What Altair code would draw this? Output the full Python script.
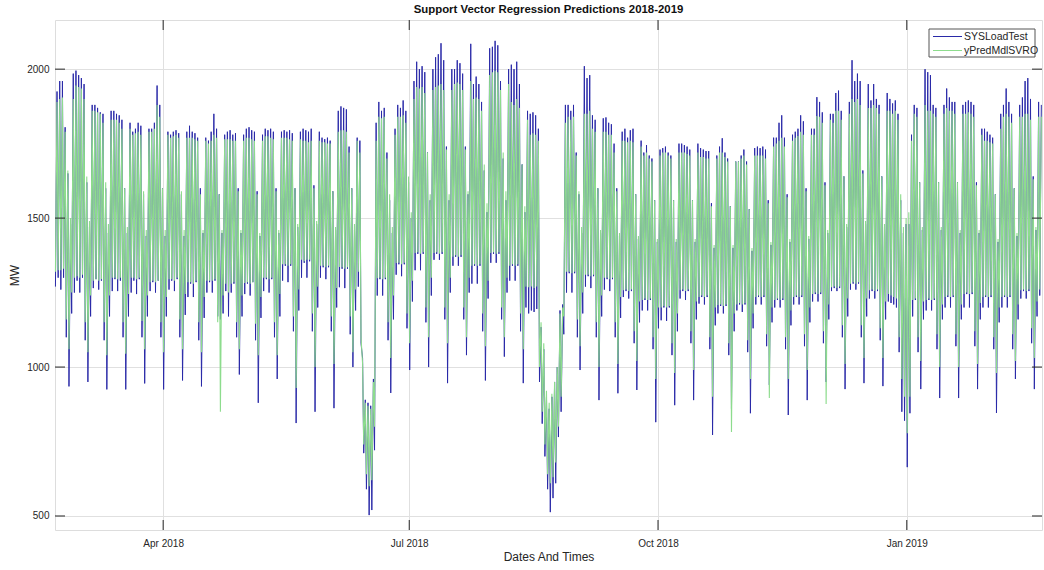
import altair as alt
import pandas as pd

TITLE = "Support Vector Regression Predictions 2018-2019"
SERIES = ["SYSLoadTest", "yPredMdlSVRO"]
COLORS = ["#2a2aa8", "#8ddc8d"]
START_DATE = "2018-02-20"
TICK_DATES = ["2018-04-01T00:00:00", "2018-07-01T00:00:00",
              "2018-10-01T00:00:00", "2019-01-01T00:00:00"]
Y_TICKS = [500, 1000, 1500, 2000]

# Daily peak / trough (MW), one row per week, days Tue..Mon, starting Tue 20 Feb 2018
BLUE_HIGH = [
    [1925,1960,1960,1805,1650,1480,1985],[1995,1980,1970,1950,1620,1470,1880],
    [1880,1870,1855,1850,1600,1450,1860],[1860,1850,1845,1830,1600,1450,1820],
    [1790,1800,1820,1810,1580,1440,1800],[1800,1820,1945,1880,1600,1440,1790],
    [1780,1790,1795,1785,1580,1440,1790],[1810,1790,1785,1770,1600,1450,1770],
    [1760,1790,1850,1800,1580,1450,1780],[1790,1795,1780,1785,1600,1450,1780],
    [1800,1805,1795,1790,1590,1440,1780],[1800,1795,1800,1790,1600,1450,1790],
    [1795,1790,1795,1785,1600,1470,1790],[1800,1795,1790,1800,1610,1480,1790],
    [1770,1765,1770,1760,1590,1460,1860],[1875,1870,1865,1740,1600,1460,1770],
    [1760,1030,890,880,870,960,1820],[1890,1860,1870,1720,1560,1450,1800],
    [1880,1870,1895,1860,1620,1500,1960],[2025,2000,2010,1990,1720,1560,2000],
    [2040,2050,2087,2030,1740,1560,2000],[2000,2030,2020,1985,1740,1580,2085],
    [1950,1975,1950,1890,1660,1520,2070],[2075,2095,2080,1960,1700,1560,2000],
    [2015,2000,2025,1950,1680,1520,1860],[1850,1855,1845,1800,1134,1060,900],
    [860,900,950,1000,1190,1210,1880],[1880,1860,1880,1720,1580,1450,2010],
    [1970,1980,1845,1830,1600,1450,1835],[1838,1820,1815,1750,1600,1440,1790],
    [1800,1770,1795,1800,1580,1430,1760],[1720,1745,1710,1700,1560,1420,1730],
    [1735,1740,1720,1710,1560,1420,1750],[1750,1745,1740,1730,1560,1420,1750],
    [1735,1730,1725,1725,1550,1400,1710],[1740,1768,1720,1700,1540,1400,1690],
    [1690,1710,1730,1690,1530,1390,1735],[1740,1735,1740,1730,1560,1410,1770],
    [1770,1820,1845,1770,1580,1420,1780],[1790,1800,1845,1825,1600,1430,1800],
    [1800,1906,1890,1855,1620,1450,1850],[1850,1920,1928,1860,1640,1470,1890],
    [2030,1960,1985,1960,1660,1480,1950],[1895,1950,1900,1880,1640,1470,1920],
    [1900,1885,1895,1850,1560,1450,1480],[1480,1780,1880,1870,1620,1460,2000],
    [1990,1980,1880,1870,1620,1460,1880],[1935,1905,1890,1890,1620,1450,1880],
    [1890,1895,1890,1880,1620,1450,1800],[1800,1790,1780,1770,1580,1420,1850],
    [1880,1935,1890,1850,1600,1440,1880],[1905,1960,1970,1900,1640,1460,1890],
    [1880],
]
BLUE_LOW = [
    [1270,1300,1260,1300,1100,935,1180],[1250,1290,1250,1300,1090,950,1170],
    [1265,1295,1260,1290,1090,925,1170],[1255,1295,1255,1290,1100,925,1170],
    [1250,1290,1245,1295,1100,945,1170],[1255,1285,1250,1290,1100,925,1170],
    [1260,1290,1255,1295,1100,955,1175],[1235,1280,1235,1285,1090,935,1165],
    [1250,1285,1250,1290,1170,1160,1180],[1255,1170,1250,1280,1100,975,1170],
    [1245,1280,1240,1285,1090,880,1165],[1255,1295,1250,1295,1100,960,1170],
    [1290,1340,1285,1340,1120,812,1190],[1300,1350,1300,1355,1120,850,1200],
    [1300,1335,1295,1335,1120,862,1200],[1268,1330,1265,1330,1110,1000,1190],
    [1270,1080,711,590,503,520,721],[1240,1295,1240,1295,1090,913,1160],
    [1310,1345,1305,1345,1130,990,1220],[1325,1380,1325,1380,1150,1000,1240],
    [1360,1380,1360,1380,1160,946,1250],[1340,1370,1340,1370,1160,1040,1250],
    [1280,1340,1280,1340,1120,955,1230],[1350,1380,1350,1380,1160,1035,1250],
    [1290,1340,1290,1340,1120,946,1200],[1180,1190,1185,1195,950,810,700],
    [590,513,560,610,765,850,1110],[1250,1315,1250,1315,1100,990,1180],
    [1270,1305,1265,1305,1100,889,1170],[1260,1295,1255,1295,1100,912,1165],
    [1235,1255,1230,1255,1080,923,1150],[1190,1225,1190,1225,1060,815,1130],
    [1157,1200,1155,1200,1040,872,1120],[1230,1255,1225,1255,1080,889,1160],
    [1213,1235,1210,1235,1060,772,1140],[1180,1205,1180,1205,1040,860,1120],
    [1190,1210,1185,1210,1050,845,1130],[1210,1235,1210,1235,1070,940,1150],
    [1200,1225,1200,1225,1060,839,1140],[1210,1235,1210,1235,1070,889,1150],
    [1220,1245,1220,1245,1080,950,1160],[1255,1265,1255,1265,1100,926,1170],
    [1260,1280,1260,1280,1100,946,1170],[1230,1255,1230,1255,1090,936,1160],
    [1220,1215,1210,1200,1050,850,820],[664,845,1170,1225,1050,926,1160],
    [1190,1225,1190,1225,1060,896,1160],[1200,1235,1200,1235,1070,896,1160],
    [1200,1245,1200,1245,1070,926,1160],[1200,1235,1200,1235,1060,846,1150],
    [1200,1235,1200,1235,1060,960,1160],[1230,1255,1230,1255,1080,926,1170],
    [1240],
]
GREEN_HIGH = [
    [1890,1900,1905,1790,1660,1500,1900],[1945,1940,1935,1900,1640,1490,1860],
    [1860,1855,1850,1820,1620,1480,1830],[1830,1830,1820,1800,1600,1470,1800],
    [1780,1785,1790,1780,1590,1460,1790],[1790,1800,1880,1840,1600,1460,1780],
    [1770,1775,1780,1770,1590,1460,1770],[1770,1770,1765,1760,1580,1460,1760],
    [1750,1760,1780,1770,1580,1460,1765],[1765,1765,1760,1760,1590,1460,1760],
    [1770,1770,1765,1760,1580,1450,1760],[1775,1775,1770,1765,1590,1460,1770],
    [1770,1770,1765,1760,1600,1480,1765],[1760,1760,1755,1760,1600,1490,1760],
    [1755,1755,1750,1750,1590,1470,1790],[1795,1795,1790,1720,1600,1480,1760],
    [1720,1010,880,870,860,950,1760],[1840,1835,1840,1700,1580,1470,1780],
    [1840,1840,1845,1820,1640,1520,1900],[1940,1935,1940,1920,1720,1580,1930],
    [1940,1945,1950,1930,1730,1580,1930],[1950,1955,1950,1930,1730,1590,1960],
    [1900,1905,1900,1860,1680,1550,1980],[1990,1995,1990,1930,1720,1590,1950],
    [1890,1880,1900,1870,1680,1540,1830],[1780,1785,1780,1760,1150,1080,920],
    [880,910,950,1000,1180,1200,1820],[1840,1830,1840,1710,1590,1470,1850],
    [1850,1860,1800,1790,1600,1460,1790],[1790,1780,1780,1720,1590,1450,1760],
    [1760,1755,1760,1755,1580,1440,1740],[1710,1720,1700,1690,1560,1430,1710],
    [1720,1720,1710,1700,1560,1430,1720],[1720,1720,1715,1710,1560,1430,1720],
    [1705,1705,1700,1700,1540,1410,1700],[1720,1720,1705,1690,1540,1410,1690],
    [1690,1700,1710,1680,1530,1400,1710],[1710,1710,1710,1700,1550,1420,1740],
    [1750,1760,1770,1740,1570,1430,1760],[1770,1776,1790,1780,1590,1440,1780],
    [1780,1843,1840,1820,1610,1460,1830],[1820,1860,1860,1830,1640,1480,1850],
    [1900,1890,1900,1880,1650,1490,1870],[1870,1880,1870,1850,1640,1480,1860],
    [1860,1850,1860,1830,1580,1470,1500],[1520,1760,1850,1840,1620,1470,1880],
    [1860,1860,1850,1840,1620,1470,1850],[1870,1860,1860,1850,1620,1460,1850],
    [1850,1855,1850,1840,1610,1460,1780],[1760,1760,1755,1750,1580,1430,1800],
    [1840,1850,1840,1820,1600,1450,1840],[1840,1850,1850,1830,1630,1470,1840],
    [1840],
]
GREEN_LOW = [
    [1320,1325,1325,1330,1160,1060,1250],[1300,1305,1300,1310,1150,1050,1240],
    [1290,1295,1290,1295,1150,1040,1240],[1300,1300,1295,1300,1150,1045,1245],
    [1300,1300,1295,1300,1155,1060,1240],[1285,1290,1285,1290,1150,1050,1235],
    [1295,1295,1290,1300,1160,1060,1245],[1285,1285,1280,1290,1150,1050,1235],
    [1290,1290,1290,1295,1150,850,1240],[1280,1250,1280,1285,1150,1060,1240],
    [1282,1285,1280,1285,1145,1040,1235],[1300,1300,1295,1300,1150,1040,1245],
    [1345,1345,1340,1345,1170,930,1260],[1360,1355,1360,1360,1180,1000,1270],
    [1340,1340,1335,1340,1170,1010,1265],[1336,1335,1330,1335,1170,1050,1260],
    [1320,1100,740,640,600,620,800],[1298,1300,1295,1300,1150,1030,1240],
    [1349,1350,1345,1350,1180,1080,1290],[1383,1385,1380,1385,1200,1100,1300],
    [1383,1385,1380,1385,1200,1080,1300],[1370,1375,1370,1375,1200,1100,1300],
    [1340,1345,1340,1345,1180,1070,1290],[1383,1385,1380,1385,1200,1100,1300],
    [1340,1345,1340,1345,1180,1060,1270],[1268,1270,1265,1270,1000,850,740],
    [640,610,630,680,800,900,1170],[1320,1320,1315,1320,1160,1070,1250],
    [1310,1310,1305,1310,1150,1000,1240],[1300,1300,1295,1300,1150,1010,1235],
    [1258,1260,1255,1260,1120,1020,1220],[1225,1230,1225,1230,1100,960,1200],
    [1200,1205,1200,1205,1080,980,1180],[1258,1260,1255,1260,1120,990,1220],
    [1235,1240,1235,1240,1100,900,1200],[1208,1210,1205,1210,1080,782,1180],
    [1210,1215,1210,1215,1090,960,1180],[1235,1240,1235,1240,1110,896,1200],
    [1225,1230,1225,1230,1100,960,1190],[1235,1240,1235,1240,1110,990,1200],
    [1245,1250,1245,1250,1120,876,1210],[1268,1270,1265,1270,1140,1010,1230],
    [1280,1285,1280,1285,1140,1030,1230],[1258,1260,1255,1260,1130,1030,1220],
    [1245,1240,1235,1230,1100,960,900],[778,900,1225,1230,1100,1020,1220],
    [1225,1230,1225,1230,1110,1000,1210],[1235,1240,1235,1240,1110,1000,1210],
    [1245,1250,1245,1250,1120,1010,1215],[1235,1240,1235,1240,1100,980,1200],
    [1235,1240,1235,1240,1110,1020,1210],[1258,1260,1255,1260,1130,1030,1220],
    [1260],
]


def series_frame(name, highs, lows):
    start = pd.Timestamp(START_DATE)
    flat_h = [v for wk in highs for v in wk]
    flat_l = [v for wk in lows for v in wk]
    rows = []
    for i, (h, l) in enumerate(zip(flat_h, flat_l)):
        day = start + pd.Timedelta(days=i)
        rows.append({"t": day + pd.Timedelta(hours=4), "MW": l, "series": name})
        rows.append({"t": day + pd.Timedelta(hours=18), "MW": h, "series": name})
    return pd.DataFrame(rows)


blue_df = series_frame(SERIES[0], BLUE_HIGH, BLUE_LOW)
green_df = series_frame(SERIES[1], GREEN_HIGH, GREEN_LOW)

FONT = "Liberation Sans"
TXT = "#262626"
W, H = 987, 510

x_enc = alt.X(
    "t:T",
    scale=alt.Scale(domain=[alt.DateTime(year=2018, month=2, date=20),
                            alt.DateTime(year=2019, month=2, date=20)]),
    axis=alt.Axis(values=[alt.DateTime(year=2018, month=4, date=1),
                          alt.DateTime(year=2018, month=7, date=1),
                          alt.DateTime(year=2018, month=10, date=1),
                          alt.DateTime(year=2019, month=1, date=1)],
                  format="%b %Y", title="Dates And Times", grid=True,
                  ticks=False, domain=False, labelPadding=8, titlePadding=3,
                  labelFontSize=10, titleFontSize=12, titleFontWeight="normal",
                  labelColor=TXT, titleColor=TXT, labelFont=FONT, titleFont=FONT,
                  gridColor="#e0e0e0"),
)
y_enc = alt.Y(
    "MW:Q",
    scale=alt.Scale(domain=[453, 2165], nice=False, zero=False),
    axis=alt.Axis(values=Y_TICKS, format="d", title="MW", grid=True, ticks=False,
                  domain=False, labelPadding=6, titlePadding=5, labelFontSize=10,
                  titleFontSize=12, titleFontWeight="normal", labelColor=TXT,
                  titleColor=TXT, labelFont=FONT, titleFont=FONT, gridColor="#e0e0e0"),
)

blue_line = alt.Chart(blue_df).mark_line(strokeWidth=1, color=COLORS[0]).encode(
    x=x_enc, y=y_enc)
green_line = alt.Chart(green_df).mark_line(strokeWidth=1.1, color=COLORS[1]).encode(
    x=x_enc, y=y_enc)

# inward tick marks on all four sides
xt_df = pd.DataFrame({"t": pd.to_datetime(TICK_DATES)})
yt_df = pd.DataFrame({"MW": Y_TICKS})
tick_style = dict(color=TXT, strokeWidth=1)
xt_bottom = alt.Chart(xt_df).mark_rule(**tick_style).encode(
    x=x_enc, y=alt.value(H - 10), y2=alt.value(H))
xt_top = alt.Chart(xt_df).mark_rule(**tick_style).encode(
    x=x_enc, y=alt.value(0), y2=alt.value(10))
yt_left = alt.Chart(yt_df).mark_rule(**tick_style).encode(
    y=y_enc, x=alt.value(0), x2=alt.value(10))
yt_right = alt.Chart(yt_df).mark_rule(**tick_style).encode(
    y=y_enc, x=alt.value(W - 10), x2=alt.value(W))

# legend box (top right, inside the axes)
LEG_X, LEG_Y, LEG_W, LEG_H, ROW = 874, 9, 106, 28, 14
legend_layers = [
    alt.Chart(alt.Data(values=[{"k": 1}])).mark_rect(
        fill="white", stroke="#555555", strokeWidth=1).encode(
        x=alt.value(LEG_X), x2=alt.value(LEG_X + LEG_W),
        y=alt.value(LEG_Y), y2=alt.value(LEG_Y + LEG_H))
]
for i, (name, col) in enumerate(zip(SERIES, COLORS)):
    yy = LEG_Y + 7.5 + ROW * i
    legend_layers.append(
        alt.Chart(alt.Data(values=[{"label": name}])).mark_rule(
            color=col, strokeWidth=1).encode(
            x=alt.value(LEG_X + 4), x2=alt.value(LEG_X + 33), y=alt.value(yy)))
    legend_layers.append(
        alt.Chart(alt.Data(values=[{"label": name}])).mark_text(
            align="left", baseline="middle", fontSize=10.5, font=FONT, color=TXT).encode(
            x=alt.value(LEG_X + 35), y=alt.value(yy), text="label:N"))

chart = alt.layer(blue_line, green_line, xt_bottom, xt_top, yt_left, yt_right,
                  *legend_layers).properties(
    width=W, height=H,
    title=alt.TitleParams(TITLE, fontSize=11.4, fontWeight="bold", font=FONT,
                          color="#111111", anchor="middle", offset=4),
    autosize=alt.AutoSizeParams(type="none"),
    padding={"left": 55, "top": 20, "right": 2, "bottom": 40},
).configure_view(stroke="#7a7a7a", strokeWidth=1).configure(background="white")

chart.save("out.html", embed_options={"renderer": "svg", "actions": False})
